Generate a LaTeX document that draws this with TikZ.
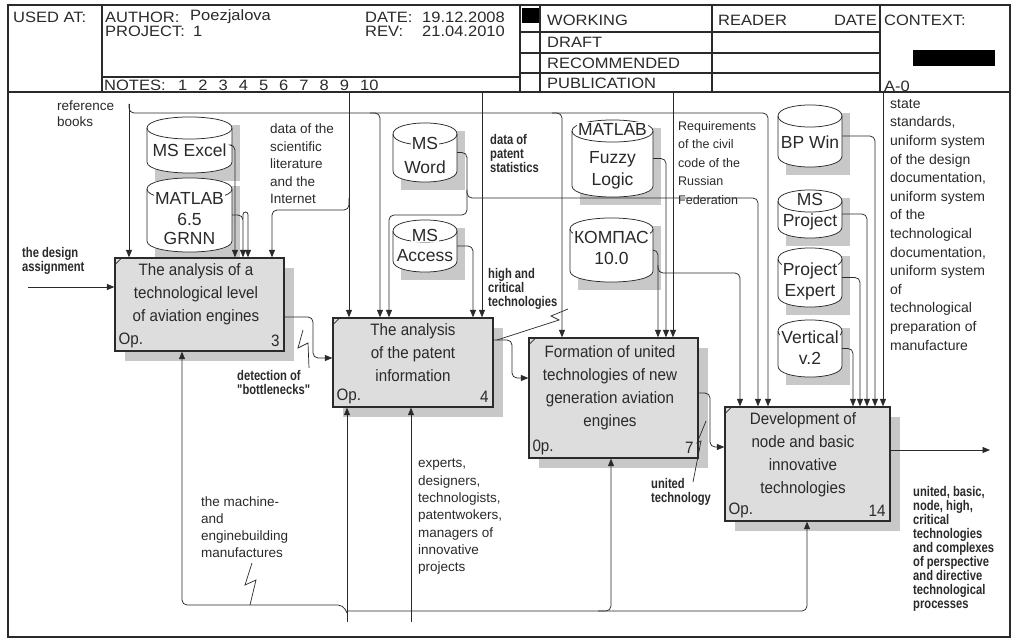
\documentclass[tikz,border=0pt]{standalone}
\usepackage{fontspec}
\setmainfont{Liberation Sans}
\newfontfamily\hdr{Liberation Sans}[FakeStretch=1.1]
\newfontfamily\bxf{Liberation Sans}[FakeStretch=0.92]
\newfontfamily\nbf{Liberation Sans}[FakeStretch=0.8,BoldFeatures={FakeStretch=0.8}]
\usetikzlibrary{arrows.meta,calc}
\definecolor{boxgray}{HTML}{DDDDDD}
\definecolor{shd}{HTML}{C8C8C8}
\definecolor{ink}{HTML}{2A2A2A}
\newcommand\drumshadow[1]{\fill[shd] ($(#1.north west)+(8,8)$) rectangle ($(#1.south east)+(8,8)$);}
\newcommand\drumshape[1]{%
 \draw[ln, fill=white] ($(#1.north west)+(0,11)$) .. controls ($(#1.north west)+(0,-3.7)$) and ($(#1.north east)+(0,-3.7)$) .. ($(#1.north east)+(0,11)$) -- ($(#1.south east)+(0,-11)$) .. controls ($(#1.south east)+(0,3.7)$) and ($(#1.south west)+(0,3.7)$) .. ($(#1.south west)+(0,-11)$) -- cycle;
 \draw[ln] ($(#1.north west)+(0,11)$) .. controls ($(#1.north west)+(0,25.7)$) and ($(#1.north east)+(0,25.7)$) .. ($(#1.north east)+(0,11)$);}
\newcommand\boxmark[1]{\draw[ln] ($(#1.north west)+(0,8)$) -- ($(#1.north west)+(8,0)$);}
\begin{document}
\begin{tikzpicture}[x=1pt,y=-1pt,
 frame/.style={draw=ink, line width=1.1pt},
 ln/.style={draw=ink, line width=0.75pt},
 arr/.style={ln, rounded corners=5pt, -{Triangle[length=7.5pt,width=6pt]}},
 sq/.style={draw=ink, line width=0.7pt},
 ht/.style={anchor=west, inner sep=0, text=ink, font=\hdr\fontsize{15}{17}\selectfont},
 lab/.style={anchor=north west, inner sep=0, align=left, text=ink, font=\fontsize{13.5}{17}\selectfont},
 blab/.style={anchor=north west, inner sep=0, align=left, text=ink, font=\nbf\bfseries\fontsize{14}{14}\selectfont},
 actbox/.style={draw=ink, line width=1.3pt, fill=boxgray, inner sep=0},
 btext/.style={align=center, inner sep=0, text=ink, font=\bxf\fontsize{16.5}{23}\selectfont},
 bnum/.style={inner sep=0, text=ink, font=\bxf\fontsize{16.5}{20}\selectfont},
 dnode/.style={inner sep=0, outer sep=0, draw=none},
 dtext/.style={inner xsep=1pt, inner ysep=0.5pt, fill=white, text=ink, font=\fontsize{17.5}{20}\selectfont}]
\useasboundingbox (0,0) rectangle (1016,644);
\fill[white] (0,0) rectangle (1016,644);
% ---------- frame and header ----------
\draw[frame] (8,5) rectangle (1010,637);
\draw[frame] (8,92) -- (1010,92);
\foreach \x in {102,520,540,712,880} \draw[frame] (\x,5) -- (\x,92);
\draw[frame] (102,77) -- (520,77);
\foreach \y in {32,53,73} \draw[frame] (520,\y) -- (880,\y);
\fill[black] (522,8) rectangle (539,23);
\fill[black] (913,50) rectangle (995,66);
\node[ht] (usedat) at (13,17) {USED AT:};
\node[ht] (author) at (105,17) {AUTHOR:};
\node[ht] (authorv) at (190,17) {Poezjalova};
\node[ht] (project) at (105,31) {PROJECT:};
\node[ht] (projectv) at (193,31) {1};
\node[ht] (date) at (365,17) {DATE:};
\node[ht] (datev) at (422,17) {19.12.2008};
\node[ht] (rev) at (365,31) {REV:};
\node[ht] (revv) at (422,31) {21.04.2010};
\node[ht] (notes) at (104,85) {NOTES:};
\foreach \k in {1,...,9} \node[ht] (note\k) at ({178+20.2*(\k-1)},85) {\k};
\node[ht] (note10) at (360,85) {10};
\node[ht] (working) at (547,20) {WORKING};
\node[ht] (draft) at (547,42) {DRAFT};
\node[ht] (recommended) at (547,63) {RECOMMENDED};
\node[ht] (publication) at (547,83) {PUBLICATION};
\node[ht] (reader) at (718,20) {READER};
\node[ht,anchor=east] (rdate) at (877,20) {DATE};
\node[ht] (context) at (884,20) {CONTEXT:};
\node[ht] (a0) at (884,86) {A-0};
% ---------- shadows ----------
\fill[shd] (125,268) rectangle (294,361);
\fill[shd] (343,328) rectangle (503,417);
\fill[shd] (539,348) rectangle (708,468);
\fill[shd] (735,417) rectangle (900,531);
\node[dnode, minimum width=85pt, minimum height=56pt] (excel) at (189.5,145) {};
\node[dnode, minimum width=85pt, minimum height=74pt] (grnn) at (189.5,215) {};
\node[dnode, minimum width=64pt, minimum height=59pt] (word) at (425,152.5) {};
\node[dnode, minimum width=64pt, minimum height=52pt] (access) at (425,246) {};
\node[dnode, minimum width=81pt, minimum height=77pt] (fuzzy) at (612.5,158.5) {};
\node[dnode, minimum width=83pt, minimum height=64pt] (kompas) at (611.5,250) {};
\node[dnode, minimum width=64pt, minimum height=62pt] (bpwin) at (810,136) {};
\node[dnode, minimum width=64pt, minimum height=48pt] (msproj) at (810,214) {};
\node[dnode, minimum width=64pt, minimum height=59pt] (projexp) at (810,277.5) {};
\node[dnode, minimum width=64pt, minimum height=57pt] (vert) at (810,348.5) {};
\foreach \n in {excel,grnn,word,access,fuzzy,kompas,bpwin,msproj,projexp,vert} {\drumshadow{\n}}
% ---------- activity boxes ----------
\node[actbox, minimum width=169pt, minimum height=93pt] (b3) at (199.5,304.5) {};
\node[actbox, minimum width=160pt, minimum height=89pt] (b4) at (413,362.5) {};
\node[actbox, minimum width=169pt, minimum height=120pt] (b7) at (613.5,398) {};
\node[actbox, minimum width=165pt, minimum height=114pt] (b14) at (807.5,464) {};
\foreach \b in {b3,b4,b7,b14} {\boxmark{\b}}
\node[btext] (b3t) at (196,294.5) {The analysis of a\\technological level\\of aviation engines};
\node[btext] (b4t) at (413,352.5) {The analysis\\of the patent\\information};
\node[btext] (b7t) at (610,388) {Formation of united\\technologies of new\\generation aviation\\engines};
\node[btext] (b14t) at (803,454.5) {Development of\\node and basic\\innovative\\technologies};
\node[bnum,anchor=west] (b3op) at ($(b3.south west)+(4,-11)$) {Op.};
\node[bnum,anchor=east] (b3n) at ($(b3.south east)+(-5,-11)$) {3};
\node[bnum,anchor=west] (b4op) at ($(b4.south west)+(4,-11)$) {Op.};
\node[bnum,anchor=east] (b4n) at ($(b4.south east)+(-5,-11)$) {4};
\node[bnum,anchor=west] (b7op) at ($(b7.south west)+(4,-11)$) {0p.};
\node[bnum,anchor=east] (b7n) at ($(b7.south east)+(-5,-11)$) {7};
\node[bnum,anchor=west] (b14op) at ($(b14.south west)+(4,-11)$) {Op.};
\node[bnum,anchor=east] (b14n) at ($(b14.south east)+(-5,-11)$) {14};
% ---------- cylinders ----------
\foreach \n in {excel,grnn,word,access,fuzzy,kompas,bpwin,msproj,projexp,vert} {\drumshape{\n}}
\node[dtext] (excel-t) at (189.5,150) {MS Excel};
\node[dtext] (grnn-t1) at (189.5,198) {MATLAB};
\node[dtext] (grnn-t2) at (189.5,219) {6.5};
\node[dtext] (grnn-t3) at (189.5,238) {GRNN};
\node[dtext] (word-t1) at (425,143) {MS};
\node[dtext] (word-t2) at (425,167) {Word};
\node[dtext] (access-t1) at (425,235) {MS};
\node[dtext] (access-t2) at (425,256) {Access};
\node[dtext] (fuzzy-t1) at (612.5,129) {MATLAB};
\node[dtext] (fuzzy-t2) at (612.5,159) {Fuzzy};
\node[dtext] (fuzzy-t3) at (612.5,181) {Logic};
\node[dtext] (kompas-t1) at (611.5,237) {КОМПАС};
\node[dtext] (kompas-t2) at (611.5,258) {10.0};
\node[dtext] (bpwin-t) at (810,142) {BP Win};
\node[dtext] (msproj-t1) at (810,199) {MS};
\node[dtext] (msproj-t2) at (810,222) {Project};
\node[dtext] (projexp-t1) at (810,271) {Project};
\node[dtext] (projexp-t2) at (810,292) {Expert};
\node[dtext] (vert-t1) at (810,337) {Vertical};
\node[dtext] (vert-t2) at (810,358) {v.2};
% ---------- controls (top) ----------
\coordinate (tref) at (129,104);
\draw[arr] (tref) -- (129,0 |- b3.north);
\draw[arr] (tref) |- (768,113) -- (768,0 |- b14.north);
\draw[arr] (370,113) -| (380,0 |- b4.north);
\draw[arr] (552,113) -| (562,0 |- b7.north);
\draw[arr] (349,93) -- (349,0 |- b4.north);
\draw[arr] (349,198) |- (272,210) -- (272,0 |- b3.north);
\draw[arr] (excel.east) -| (235,0 |- b3.north);
\draw[arr] (grnn.east) -| (243,0 |- b3.north);
\draw[arr, rounded corners=2.5pt] (243,219) -- (243,212) -- (248,212) -- (248,0 |- b3.north);
\draw[arr] (word.east) -| (467,215) -| (389,0 |- b4.north);
\draw[arr] (467,190) |- (758,198) -- (758,0 |- b14.north);
\draw[arr] (access.east) -| (473,0 |- b4.north);
\draw[arr] (482,93) -- (482,0 |- b4.north);
\draw[arr] (fuzzy.east) -| (666,0 |- b7.north);
\draw[arr] (kompas.east) -| (658,0 |- b7.north);
\draw[arr] (658,265) |- (740,273) -- (740,0 |- b14.north);
\draw[arr] (673,93) -- (673,0 |- b7.north);
\draw[arr] (bpwin.east) -| (875,0 |- b14.north);
\draw[arr] (msproj.east) -| (867,0 |- b14.north);
\draw[arr] (projexp.east) -| (860,0 |- b14.north);
\draw[arr] (vert.east) -| (853,0 |- b14.north);
\draw[arr] (883,93) -- (883,0 |- b14.north);
% ---------- inputs / outputs ----------
\draw[arr] (28,287) -- (b3.west |- 0,287);
\draw[arr] (b3.east |- 0,317) -- (313,317) -- (313,358) -- (b4.west |- 0,358);
\draw[arr] (b4.east |- 0,340) -- (512,340) -- (512,378) -- (b7.west |- 0,378);
\draw[arr] (b7.east |- 0,393) -- (710,393) -- (710,447) -- (b14.west |- 0,447);
\draw[arr] (b14.east |- 0,450) -- (990,450);
% ---------- mechanisms ----------
\draw[arr] (347,622) -- (347,0 |- b4.south);
\draw[arr] (411,622) -- (411,0 |- b4.south);
\draw[arr] (347,613) -- (343,605) -- (182,605) -- (182,0 |- b3.south);
\draw[arr] (347,611) -| (807,0 |- b14.south);
\draw[arr] (598,611) -| (611,0 |- b7.south);
% ---------- squiggles ----------
\draw[sq] (309,368) -- (308,343) -- (298,348) -- (303,330);
\draw[sq] (568,309) -- (551,316) -- (559,320) -- (497,340);
\draw[sq] (693,482) -- (701,441) -- (697,443) -- (706,421);
\draw[sq] (252,563) -- (245,585) -- (256,580) -- (250,605);
% ---------- labels ----------
\node[lab, font=\fontsize{13.5}{16}\selectfont] (l-ref) at (57,101) {reference\\books};
\node[lab, font=\fontsize{13.5}{17.5}\selectfont] (l-lit) at (270,124) {data of the\\scientific\\literature\\and the\\Internet};
\node[lab, font=\fontsize{12.5}{18.5}\selectfont] (l-req) at (678,121) {Requirements\\of the civil\\code of the\\Russian\\Federation};
\node[lab, font=\fontsize{14}{18.6}\selectfont] (l-std) at (890,99) {state\\standards,\\uniform system\\of the design\\documentation,\\uniform system\\of the\\technological\\documentation,\\uniform system\\of\\technological\\preparation of\\manufacture};
\node[lab] (l-mach) at (201,497) {the machine-\\and\\enginebuilding\\manufactures};
\node[lab, font=\fontsize{13.5}{17.3}\selectfont] (l-exp) at (418,459) {experts,\\designers,\\technologists,\\patentwokers,\\managers of\\innovative\\projects};
\node[blab] (l-pat) at (490,134) {data of\\patent\\statistics};
\node[blab] (l-high) at (488,268) {high and\\critical\\technologies};
\node[blab] (l-bot) at (237,370) {detection of\\"bottlenecks"};
\node[blab] (l-unit) at (651,478) {united\\technology};
\node[blab] (l-des) at (22,247) {the design\\assignment};
\node[blab] (l-out) at (913,486) {united, basic,\\node, high,\\critical\\technologies\\and complexes\\of perspective\\and directive\\technological\\processes};
\end{tikzpicture}
\end{document}
